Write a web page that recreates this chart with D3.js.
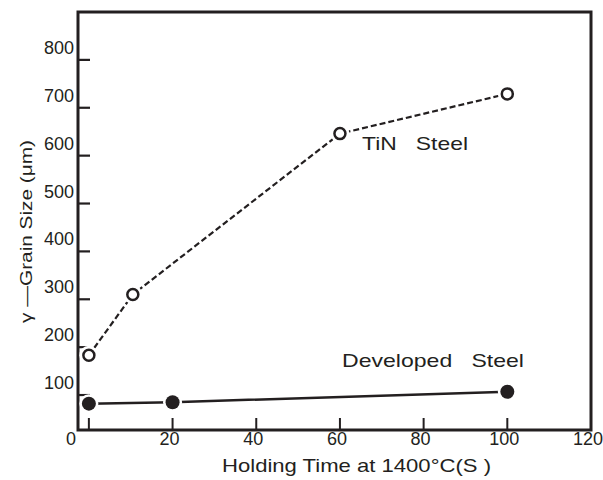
<!DOCTYPE html>
<html>
<head>
<meta charset="utf-8">
<script src="https://cdn.jsdelivr.net/npm/d3@7"></script>
<style>
  body { margin: 0; background: #fff; }
  text { font-family: "Liberation Sans", Arial, sans-serif; fill: #231f20; }
</style>
</head>
<body>
<div id="chart"></div>
<script>
// data
const tinTime = [0, 10.5, 60, 100];
const tinSize = [183, 310, 646, 729];
const devTime = [0, 20, 100];
const devSize = [82, 85, 107];
const xTicks = [0, 20, 40, 60, 80, 100, 120];
const yTicks = [100, 200, 300, 400, 500, 600, 700, 800];

const width = 603, height = 480;
const ink = "#231f20";

const svg = d3.select("#chart").append("svg")
  .attr("width", width).attr("height", height);

// the frame does not start at 0 on either scale (as in the scan)
const x = d3.scaleLinear().domain([-2.6, 120]).range([78, 591]);
const y = d3.scaleLinear().domain([27, 900]).range([430, 12]);

// frame
svg.append("rect")
  .attr("x", x(-2.6)).attr("y", y(900))
  .attr("width", x(120) - x(-2.6)).attr("height", y(27) - y(900))
  .attr("fill", "none").attr("stroke", ink).attr("stroke-width", 3);

// y ticks (inward) + labels sitting a bit above the tick
const yAxis = svg.append("g");
yAxis.selectAll("line").data(yTicks).join("line")
  .attr("x1", x(-2.6)).attr("x2", x(-2.6) + 12)
  .attr("y1", d => y(d)).attr("y2", d => y(d))
  .attr("stroke", ink).attr("stroke-width", 2.2);
yAxis.selectAll("text").data(yTicks).join("text")
  .attr("x", 74).attr("y", d => y(d) - 6)
  .attr("text-anchor", "end")
  .style("font-size", "18px")
  .text(d => d);

// x ticks (inward) + labels
const xAxis = svg.append("g");
xAxis.selectAll("line").data(xTicks.slice(0, -1)).join("line")
  .attr("x1", d => x(d)).attr("x2", d => x(d))
  .attr("y1", y(27)).attr("y2", y(27) - 12)
  .attr("stroke", ink).attr("stroke-width", 2);
xAxis.selectAll("text").data(xTicks).join("text")
  .attr("x", d => d === 0 ? 71 : x(d) - 3)
  .attr("y", 445)
  .attr("text-anchor", "middle")
  .style("font-size", "18px")
  .text(d => d);

// axis titles
svg.append("text")
  .attr("x", 222).attr("y", 472)
  .style("font-size", "19px")
  .attr("textLength", 269).attr("lengthAdjust", "spacingAndGlyphs")
  .text("Holding Time at 1400°C(S )");

svg.append("text")
  .attr("transform", "translate(32,323) rotate(-90)")
  .style("font-size", "17px")
  .attr("textLength", 183).attr("lengthAdjust", "spacingAndGlyphs")
  .text("γ —Grain  Size (μm)");

// series
const tin = tinTime.map((t, i) => [t, tinSize[i]]);
const dev = devTime.map((t, i) => [t, devSize[i]]);
const line = d3.line().x(d => x(d[0])).y(d => y(d[1]));

svg.append("path").datum(tin)
  .attr("d", line)
  .attr("fill", "none").attr("stroke", ink)
  .attr("stroke-width", 2.2).attr("stroke-dasharray", "6,3");

svg.append("path").datum(dev)
  .attr("d", line)
  .attr("fill", "none").attr("stroke", ink)
  .attr("stroke-width", 2.5);

// white halo so lines stop short of the markers
svg.append("g").selectAll("circle").data(tin.concat(dev)).join("circle")
  .attr("cx", d => x(d[0])).attr("cy", d => y(d[1]))
  .attr("r", 9.5)
  .attr("fill", "#fff");

svg.append("g").selectAll("circle").data(tin).join("circle")
  .attr("cx", d => x(d[0])).attr("cy", d => y(d[1]))
  .attr("r", 5.5)
  .attr("fill", "#fff").attr("stroke", ink).attr("stroke-width", 2.5);

svg.append("g").selectAll("circle").data(dev).join("circle")
  .attr("cx", d => x(d[0])).attr("cy", d => y(d[1]))
  .attr("r", 7)
  .attr("fill", ink);

// series labels
svg.append("text")
  .attr("x", 362).attr("y", 150)
  .style("font-size", "19px")
  .attr("xml:space", "preserve")
  .attr("textLength", 106).attr("lengthAdjust", "spacingAndGlyphs")
  .text("TiN   Steel");

svg.append("text")
  .attr("x", 342).attr("y", 367)
  .style("font-size", "19px")
  .attr("xml:space", "preserve")
  .attr("textLength", 182).attr("lengthAdjust", "spacingAndGlyphs")
  .text("Developed   Steel");
</script>
</body>
</html>
